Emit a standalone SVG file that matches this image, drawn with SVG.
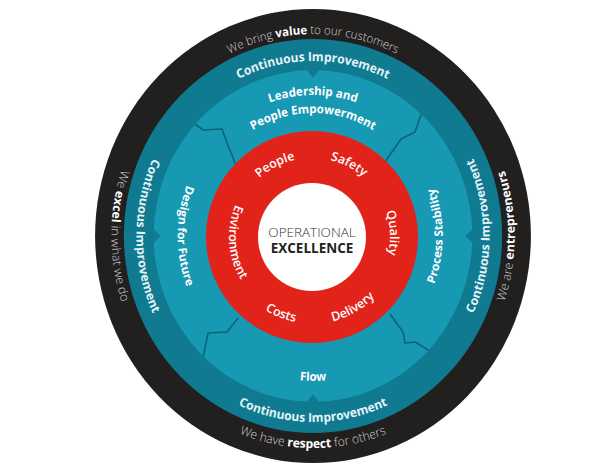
<svg xmlns="http://www.w3.org/2000/svg" xmlns:xlink="http://www.w3.org/1999/xlink" width="600" height="474" viewBox="0 0 600 474">
  <style>
    .t1 { font-family: "Open Sans", "Liberation Sans", sans-serif; font-size: 12.5px; font-weight: 300; fill: #cfcfcf; }
    .t1.top { font-size: 12px; }
    .t1 .b { font-weight: 700; fill: #ffffff; }
    .t2 { font-family: "Open Sans", "Liberation Sans", sans-serif; font-size: 12.5px; font-weight: 700; fill: #e4f4f8; }
    .t3 { font-family: "Open Sans", "Liberation Sans", sans-serif; font-size: 12px; font-weight: 700; fill: #ffffff; }
    .t4 { font-family: "Open Sans", "Liberation Sans", sans-serif; font-size: 12.5px; font-weight: 600; fill: #ffffff; }
    .seam { fill: none; stroke: #0b6577; stroke-width: 1.6; stroke-linejoin: round; }
    .notch { fill: #0f7a90; }
  </style>
  <defs>
    <!-- outer ring text paths (ring space, centre at origin) -->
    <path id="pTopBlack" d="M -202 0 A 202 202 0 0 1 202 0"/>
    <path id="pBotBlack" d="M -212 0 A 212 212 0 0 0 212 0"/>
    <path id="pLeftBlack" d="M 0 -210 A 210 210 0 0 0 0 210"/>
    <path id="pRightBlack" d="M 0 210 A 210 210 0 0 0 0 -210"/>
    <path id="pTopCI" d="M -175 0 A 175 175 0 0 1 175 0"/>
    <path id="pBotCI" d="M -186 0 A 186 186 0 0 0 186 0"/>
    <path id="pLeftCI" d="M 0 -184 A 184 184 0 0 0 0 184"/>
    <path id="pRightCI" d="M 0 184 A 184 184 0 0 0 0 -184"/>
    <path id="pLead1" d="M -141 0 A 141 141 0 0 1 141 0"/>
    <path id="pLead2" d="M -123 0 A 123 123 0 0 1 123 0"/>
    <path id="pFlow" d="M -145 0 A 145 145 0 0 0 145 0"/>
    <path id="pDesign" d="M 0 -141 A 141 141 0 0 0 0 141"/>
    <path id="pProcess" d="M 0 135 A 135 135 0 0 0 0 -135"/>
    <!-- red ring text paths -->
    <path id="pPeople" d="M -70.4 35.9 A 79 79 0 0 1 70.4 -35.9"/>
    <path id="pSafety" d="M -70.4 -35.9 A 79 79 0 0 1 70.4 35.9"/>
    <path id="pQuality" d="M -4.1 -77.9 A 78 78 0 0 1 4.1 77.9"/>
    <path id="pDelivery" d="M -76.2 44 A 88 88 0 0 0 76.2 -44"/>
    <path id="pCosts" d="M -82.5 -33.3 A 89 89 0 0 0 82.5 33.3"/>
    <path id="pEnv" d="M -5.8 -82.8 A 83 83 0 0 0 5.8 82.8"/>
    <clipPath id="midClip">
      <ellipse cx="313" cy="236" rx="159.4" ry="166"/>
    </clipPath>
  </defs>

  <!-- outer rings -->
  <g id="rings" transform="translate(313 236) scale(0.96 1)">
    <circle r="227" fill="#221f1f"/>
    <circle r="197" fill="#0f7a90"/>
    <circle r="166" fill="#1798b3"/>
  </g>

  <!-- seams between the middle segments -->
  <g id="connectors" clip-path="url(#midClip)">
    <path class="seam" d="M 190 120 L 203 130 L 222 129 L 227 143 L 236 165"/>
    <path class="seam" d="M 424 106 L 415 132 L 401 139 L 385 162"/>
    <path class="seam" d="M 201 368 L 208 333 L 227 332 L 238 318"/>
    <path class="seam" d="M 390 314 L 403 332 L 405 343 L 415 342 L 438 356"/>
  </g>

  <g id="values" transform="translate(313 236) scale(0.96 1)">
    <text class="t1 top"><textPath xlink:href="#pTopBlack" startOffset="50%" text-anchor="middle">We bring <tspan class="b">value</tspan> to our customers</textPath></text>
    <text class="t1"><textPath xlink:href="#pBotBlack" startOffset="50%" text-anchor="middle">We have <tspan class="b">respect</tspan> for others</textPath></text>
    <text class="t1"><textPath xlink:href="#pLeftBlack" startOffset="50%" text-anchor="middle">We <tspan class="b">excel</tspan> in what we do</textPath></text>
    <text class="t1"><textPath xlink:href="#pRightBlack" startOffset="50%" text-anchor="middle">We are <tspan class="b">entrepreneurs</tspan></textPath></text>
  </g>

  <g id="continuous-improvement" transform="translate(313 236) scale(0.96 1)">
    <polygon class="notch" points="-7,-166.5 7,-166.5 0,-158.5"/>
    <polygon class="notch" points="-7,166.5 7,166.5 0,158.5"/>
    <polygon class="notch" points="-166.5,-7 -166.5,7 -158.5,0"/>
    <polygon class="notch" points="166.5,-7 166.5,7 158.5,0"/>
    <text class="t2"><textPath xlink:href="#pTopCI" startOffset="50%" text-anchor="middle">Continuous Improvement</textPath></text>
    <text class="t2"><textPath xlink:href="#pBotCI" startOffset="50%" text-anchor="middle">Continuous Improvement</textPath></text>
    <text class="t2"><textPath xlink:href="#pLeftCI" startOffset="50%" text-anchor="middle">Continuous Improvement</textPath></text>
    <text class="t2"><textPath xlink:href="#pRightCI" startOffset="50%" text-anchor="middle">Continuous Improvement</textPath></text>
  </g>

  <g id="leadership" transform="translate(313 236) scale(0.96 1)">
    <text class="t3"><textPath xlink:href="#pLead1" startOffset="50%" text-anchor="middle">Leadership and</textPath></text>
    <text class="t3"><textPath xlink:href="#pLead2" startOffset="50%" text-anchor="middle">People Empowerment</textPath></text>
  </g>
  <g id="flow" transform="translate(313 236) scale(0.96 1)">
    <text class="t3"><textPath xlink:href="#pFlow" startOffset="50%" text-anchor="middle">Flow</textPath></text>
  </g>
  <g id="design-for-future" transform="translate(313 236) scale(0.96 1)">
    <text class="t3"><textPath xlink:href="#pDesign" startOffset="50%" text-anchor="middle">Design for Future</textPath></text>
  </g>
  <g id="process-stability" transform="translate(313 236) scale(0.96 1)">
    <text class="t3"><textPath xlink:href="#pProcess" startOffset="50%" text-anchor="middle">Process Stability</textPath></text>
  </g>

  <!-- red ring of results -->
  <g id="results" transform="translate(312 237)">
    <circle r="106" fill="#e2231a"/>
    <text class="t4"><textPath xlink:href="#pPeople" startOffset="50%" text-anchor="middle">People</textPath></text>
    <text class="t4"><textPath xlink:href="#pSafety" startOffset="50%" text-anchor="middle">Safety</textPath></text>
    <text class="t4"><textPath xlink:href="#pQuality" startOffset="50%" text-anchor="middle">Quality</textPath></text>
    <text class="t4"><textPath xlink:href="#pDelivery" startOffset="50%" text-anchor="middle">Delivery</textPath></text>
    <text class="t4"><textPath xlink:href="#pCosts" startOffset="50%" text-anchor="middle">Costs</textPath></text>
    <text class="t4"><textPath xlink:href="#pEnv" startOffset="50%" text-anchor="middle">Environment</textPath></text>
  </g>

  <!-- centre -->
  <g id="operational-excellence" transform="translate(312 237)">
    <circle r="54" fill="#ffffff"/>
    <text x="0" y="0" text-anchor="middle" font-family="Open Sans, Liberation Sans, sans-serif" font-size="13.5" font-weight="300" fill="#333333">OPERATIONAL</text>
    <text x="0" y="16" text-anchor="middle" font-family="Open Sans, Liberation Sans, sans-serif" font-size="13.5" font-weight="700" fill="#222222">EXCELLENCE</text>
  </g>
</svg>
